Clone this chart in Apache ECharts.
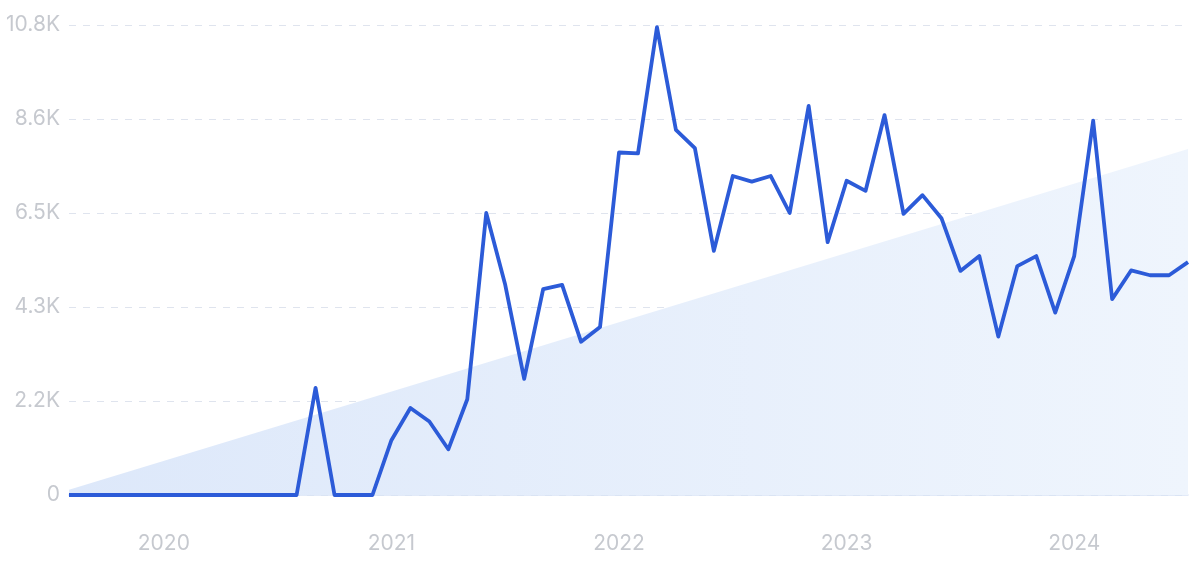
<!DOCTYPE html>
<html>
<head>
<meta charset="utf-8">
<script src="https://cdn.jsdelivr.net/npm/echarts@6/dist/echarts.min.js"></script>
<style>
html,body{margin:0;padding:0;background:#fff;}
#chart{width:1200px;height:561px;}
</style>
</head>
<body>
<div id="chart"></div>
<script>
// Monthly categories Aug 2019 .. Jul 2024
const months = [
 '2019-08','2019-09','2019-10','2019-11','2019-12',
 '2020-01','2020-02','2020-03','2020-04','2020-05','2020-06','2020-07','2020-08','2020-09','2020-10','2020-11','2020-12',
 '2021-01','2021-02','2021-03','2021-04','2021-05','2021-06','2021-07','2021-08','2021-09','2021-10','2021-11','2021-12',
 '2022-01','2022-02','2022-03','2022-04','2022-05','2022-06','2022-07','2022-08','2022-09','2022-10','2022-11','2022-12',
 '2023-01','2023-02','2023-03','2023-04','2023-05','2023-06','2023-07','2023-08','2023-09','2023-10','2023-11','2023-12',
 '2024-01','2024-02','2024-03','2024-04','2024-05','2024-06','2024-07'
];
const searches = [
 0,0,0,0,0,
 0,0,0,0,0,0,0,0,2460,0,0,0,
 1260,2000,1690,1050,2200,6480,4830,2670,4730,4830,3520,3860,
 7870,7850,10750,8390,7970,5610,7330,7200,7330,6480,8940,5810,
 7220,6990,8730,6460,6890,6360,5150,5490,3640,5260,5490,4190,
 5490,8600,4500,5160,5050,5050,5350
];
const trendPoints = [['2019-08', 120], ['2024-07', 7950]];
const yTickLabels = ['0','2.2K','4.3K','6.5K','8.6K','10.8K'];
const yInterval = 2160;

const chart = echarts.init(document.getElementById('chart'), null, {renderer:'canvas'});
chart.setOption({
  animation:false,
  grid:{left:69,right:12,top:25,bottom:66,containLabel:false},
  xAxis:{
    type:'category',
    data:months,
    boundaryGap:false,
    axisLine:{show:true,lineStyle:{color:'#d9e4f6',width:1.5}},
    axisTick:{show:false},
    splitLine:{show:false},
    axisLabel:{
      interval:(i,v)=>v.endsWith('-01'),
      formatter:(v)=>v.slice(0,4),
      color:'#c6c9cf',
      fontFamily:'Inter',
      fontSize:21,
      margin:38
    }
  },
  yAxis:{
    type:'value',
    min:0,
    max:yInterval*(yTickLabels.length-1),
    interval:yInterval,
    axisLine:{show:false},
    axisTick:{show:false},
    splitLine:{show:true,lineStyle:{color:'#dfe4ee',type:[7,7],width:1}},
    axisLabel:{
      formatter:(v)=>yTickLabels[Math.round(v/yInterval)],
      color:'#c6c9cf',
      fontFamily:'Inter',
      fontSize:21,
      margin:9
    }
  },
  series:[
    {
      type:'line',
      data:trendPoints,
      symbol:'none',
      silent:true,
      lineStyle:{width:0,opacity:0},
      areaStyle:{
        color:new echarts.graphic.LinearGradient(0,0,1,0,[
          {offset:0,color:'#dde8fa'},
          {offset:1,color:'#eff5fd'}
        ]),
        opacity:1
      },
      z:1
    },
    {
      type:'line',
      data:searches,
      symbol:'none',
      lineStyle:{color:'#2c5bd8',width:3.8,join:'round'},
      z:3
    }
  ]
});
</script>
</body>
</html>
